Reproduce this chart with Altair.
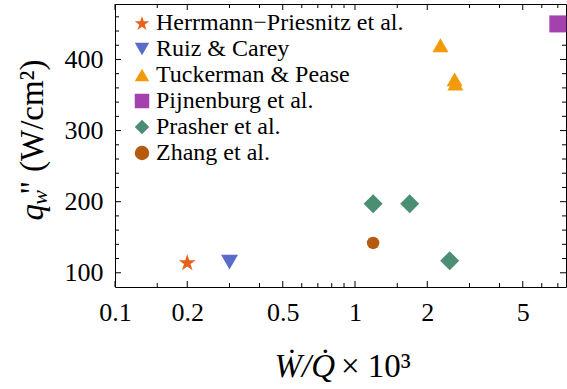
import math
import altair as alt
import pandas as pd

# ---- data ---------------------------------------------------------------
series = ["Herrmann−Priesnitz et al.", "Ruiz & Carey", "Tuckerman & Pease",
          "Pijnenburg et al.", "Prasher et al.", "Zhang et al."]
colors = ["#E8601C", "#5B6BC8", "#F29A0A", "#A441AE", "#4A8F74", "#B55A0E"]
marker_sizes = [289, 289, 256, 289, 361, 156]

point_series = ["Herrmann−Priesnitz et al.", "Ruiz & Carey",
                "Tuckerman & Pease", "Tuckerman & Pease", "Tuckerman & Pease",
                "Pijnenburg et al.",
                "Prasher et al.", "Prasher et al.", "Prasher et al.",
                "Zhang et al."]
work_ratio = [0.2, 0.3, 2.27, 2.6, 2.62, 7.0, 1.19, 1.69, 2.48, 1.19]
heat_flux = [115, 115, 420, 372, 366, 450, 197, 197, 117, 142]

x_major = [0.1, 0.2, 0.5, 1, 2, 5]
x_minor = [0.15, 0.3, 0.4, 0.6, 0.7, 0.8, 0.9, 1.5, 3, 4, 6, 7]
y_major = [100, 200, 300, 400]
y_minor = [120, 140, 160, 180, 220, 240, 260, 280, 320, 340, 360, 380,
           420, 440, 460]

# ---- layout -------------------------------------------------------------
W, H = 451, 283
X_DOMAIN = [0.1, 7.57]
Y_DOMAIN = [80, 478]
FONT = "Liberation Serif"
MAJOR_LEN, MINOR_LEN = 6, 4


def star_path():
    pts = []
    for i in range(10):
        r = 1.0 if i % 2 == 0 else 0.382
        a = math.pi / 2 + i * math.pi / 5
        pts.append((r * math.cos(a), -r * math.sin(a)))
    xs_ = [p[0] for p in pts]
    ys_ = [p[1] for p in pts]
    cx, cy = (max(xs_) + min(xs_)) / 2, (max(ys_) + min(ys_)) / 2
    s = 2 / max(max(xs_) - min(xs_), max(ys_) - min(ys_))
    cmds = [f"{(x - cx) * s:.4f},{(y - cy) * s:.4f}" for x, y in pts]
    return "M" + "L".join(cmds) + "Z"


shapes = [star_path(), "triangle-down", "triangle-up", "square", "diamond", "circle"]

xs = alt.Scale(type="log", domain=X_DOMAIN, nice=False)
ys = alt.Scale(domain=Y_DOMAIN, nice=False, zero=False)
X_AXIS = alt.Axis(values=x_major, format="~g", title=None, labelPadding=12,
                  labelFlush=False, labelOverlap=False, labelBound=False)
Y_AXIS = alt.Axis(values=y_major, title=None, labelPadding=12,
                  labelFlush=False, labelOverlap=False)

points_df = pd.DataFrame({"series": point_series, "x": work_ratio, "y": heat_flux})
legend = alt.Legend(orient="none", legendX=15, legendY=7, title=None)
color_scale = alt.Scale(domain=series, range=colors)
shape_scale = alt.Scale(domain=series, range=shapes)

# one layer per series so each marker keeps its own size
point_layers = []
for name, size in zip(series, marker_sizes):
    df = points_df[points_df["series"] == name]
    point_layers.append(
        alt.Chart(df).mark_point(filled=True, opacity=1, strokeWidth=0, size=size).encode(
            x=alt.X("x:Q", scale=xs, axis=X_AXIS),
            y=alt.Y("y:Q", scale=ys, axis=Y_AXIS),
            color=alt.Color("series:N", scale=color_scale, legend=legend),
            shape=alt.Shape("series:N", scale=shape_scale, legend=legend),
        )
    )


def xticks(values, length):
    df = pd.DataFrame({"x": values})
    base = alt.Chart(df).mark_rule(color="black", strokeWidth=1)
    bottom = base.encode(x=alt.X("x:Q", scale=xs, axis=X_AXIS),
                         y=alt.value(H), y2=alt.value(H - length))
    top = base.encode(x=alt.X("x:Q", scale=xs, axis=X_AXIS),
                      y=alt.value(0), y2=alt.value(length))
    return [bottom, top]


def yticks(values, length):
    df = pd.DataFrame({"y": values})
    base = alt.Chart(df).mark_rule(color="black", strokeWidth=1)
    left = base.encode(y=alt.Y("y:Q", scale=ys, axis=Y_AXIS),
                       x=alt.value(0), x2=alt.value(length))
    right = base.encode(y=alt.Y("y:Q", scale=ys, axis=Y_AXIS),
                        x=alt.value(W), x2=alt.value(W - length))
    return [left, right]


one = pd.DataFrame({"k": [0]})


def piece(text, x, y, size, italic=False, angle=0, align="left"):
    return alt.Chart(one).mark_text(
        text=text, font=FONT, fontSize=size, fontStyle="italic" if italic else "normal",
        align=align, baseline="alphabetic", angle=angle, color="black",
    ).encode(x=alt.value(x), y=alt.value(y))


TS, SUB = 33, 22
# y title, reading bottom to top: q_w'' then (W/cm²), joined at y_join
y_join, y_base = 168, -72
ytitle = [
    piece('"', y_base, y_join + 9, TS, angle=270, align="right"),
    piece("w", y_base + 4, y_join + 18, SUB, italic=True, angle=270, align="right"),
    piece("q", y_base, y_join + 32, TS, italic=True, angle=270, align="right"),
    piece("(W/cm²)", y_base, y_join, TS, angle=270, align="left"),
]

# x title: W-dot / Q-dot  × 10³, joined at x_join
x_join, x_base = 223, 373
xtitle = [
    piece("W\u0307/Q\u0307", x_join - 3, x_base, TS, italic=True, align="right"),
    piece("× 10³", x_join + 3, x_base, TS, align="left"),
]

layers = (xticks(x_major, MAJOR_LEN) + xticks(x_minor, MINOR_LEN)
          + yticks(y_major, MAJOR_LEN) + yticks(y_minor, MINOR_LEN)
          + point_layers + ytitle + xtitle)

chart = alt.layer(*layers).properties(
    width=W, height=H,
    autosize=alt.AutoSizeParams(type="none"),
    padding={"left": 115, "top": 4, "right": 1, "bottom": 102},
).configure_view(
    stroke="black", strokeWidth=1,
).configure_axis(
    ticks=False, domain=False, grid=False,
    labelFont=FONT, labelFontSize=26, labelColor="black",
).configure_legend(
    labelFont=FONT, labelFontSize=24, labelColor="black", labelLimit=400,
    symbolSize=210, symbolStrokeWidth=0, symbolOpacity=1,
    rowPadding=2, labelOffset=2, padding=0,
)

chart.save("out.html", embed_options={"renderer": "svg", "actions": False})
